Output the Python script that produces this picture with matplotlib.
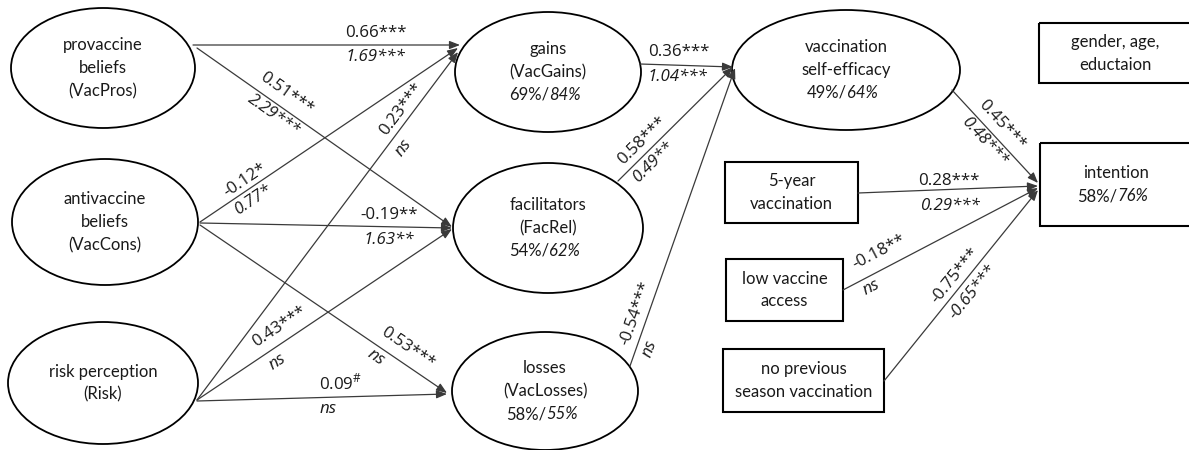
import math
import matplotlib.pyplot as plt
from matplotlib.patches import Ellipse, Rectangle, FancyArrowPatch, ArrowStyle

plt.rcParams['font.family'] = ['Lato', 'DejaVu Sans']
plt.rcParams['mathtext.fontset'] = 'custom'
plt.rcParams['mathtext.rm'] = 'Open Sans'

# ---- model content -------------------------------------------------------
path_from = ["VacPros", "VacPros", "VacCons", "Risk", "VacCons", "VacCons", "Risk", "Risk",
             "VacGains", "FacRel", "VacLosses", "SelfEff", "FiveYear", "LowAccess", "NoPrev"]
path_to = ["VacGains", "FacRel", "VacGains", "VacGains", "FacRel", "VacLosses", "FacRel", "VacLosses",
           "SelfEff", "SelfEff", "SelfEff", "Intention", "Intention", "Intention", "Intention"]
# standardized (upright) / unstandardized (italic) coefficients
coef_std = ["0.66***", "0.51***", "-0.12*", "0.23***", "-0.19**", "0.53***", "0.43***", "0.09#",
            "0.36***", "0.58***", "-0.54***", "0.45***", "0.28***", "-0.18**", "-0.75***"]
coef_uns = ["1.69***", "2.29***", "0.77*", "ns", "1.63**", "ns", "ns", "ns",
            "1.04***", "0.49**", "ns", "0.48***", "0.29***", "ns", "-0.65***"]

# explained variance of endogenous variables
r2_nodes = ["VacGains", "FacRel", "VacLosses", "SelfEff", "Intention"]
r2_std = ["69%", "54%", "58%", "49%", "58%"]
r2_uns = ["84%", "62%", "55%", "64%", "76%"]

node_text = {
    "VacPros": ["provaccine", "beliefs", "(VacPros)"],
    "VacCons": ["antivaccine", "beliefs", "(VacCons)"],
    "Risk": ["risk perception", "(Risk)"],
    "VacGains": ["gains", "(VacGains)"],
    "FacRel": ["facilitators", "(FacRel)"],
    "VacLosses": ["losses", "(VacLosses)"],
    "SelfEff": ["vaccination", "self-efficacy"],
    "Covars": ["gender, age,", "eductaion"],
    "Intention": ["intention"],
    "FiveYear": ["5-year", "vaccination"],
    "LowAccess": ["low vaccine", "access"],
    "NoPrev": ["no previous", "season vaccination"],
}

# ---- layout (pixel space) -----------------------------------------------
nodes = {
    "VacPros": ("ellipse", 103, 68, 184, 120),
    "VacCons": ("ellipse", 105, 222, 186, 126),
    "Risk": ("ellipse", 103, 383, 190, 122),
    "VacGains": ("ellipse", 548, 72, 186, 120),
    "FacRel": ("ellipse", 548, 228, 190, 130),
    "VacLosses": ("ellipse", 545, 391, 186, 118),
    "SelfEff": ("ellipse", 846, 70, 228, 120),
    "Covars": ("box", 1039, 23, 152, 60),
    "Intention": ("box", 1040, 143, 152, 83),
    "FiveYear": ("box", 725, 162, 133, 61),
    "LowAccess": ("box", 726, 259, 117, 62),
    "NoPrev": ("box", 723, 349, 161, 63),
}

edge_ends = [((193, 45), (460, 45)), ((197, 48), (452, 227)), ((200, 222), (458, 48)),
             ((197, 400), (458, 52)), ((200, 223), (452, 228)), ((200, 225), (447, 393)),
             ((197, 400), (452, 229)), ((197, 401), (447, 394)), ((640, 64), (733, 67)),
             ((618, 181), (733, 67)), ((630, 366), (735, 68)), ((952, 90), (1038, 183)),
             ((858, 193), (1038, 186)), ((843, 290), (1038, 188)), ((884, 381), (1038, 190))]

# (t, offset) along/normal to each path for the two labels
label_pos = [((0.685, 12), (0.685, -12)), ((0.32, 14), (0.326, -11)), ((0.195, 10), (0.18, -12)),
             ((0.818, 11), (0.75, -14)), ((0.75, 12), (0.75, -13)), ((0.807, 15), (0.737, -11)),
             ((0.354, 15), (0.286, -13)), ((0.576, 14), (0.524, -12)), ((0.41, 13), (0.41, -12)),
             ((0.283, 12), (0.236, -11)), ((0.165, 12), (0.072, -13)), ((0.47, 13), (0.47, -11)),
             ((0.505, 8), (0.505, -17)), ((0.225, 17), (0.117, -11)), ((0.515, 11), (0.51, -13))]

FS = 12
FS_COEF = 12.2
TXT = '#1a1a1a'

fig = plt.figure(figsize=(11.89, 4.5), dpi=100)
ax = fig.add_axes([0, 0, 1, 1])
ax.set_xlim(0, 1189)
ax.set_ylim(450, 0)
ax.axis('off')

line_h = 23
for name, (kind, a, b, w, h) in nodes.items():
    if kind == "ellipse":
        ax.add_patch(Ellipse((a, b), w, h, fill=False, ec='black', lw=1.3))
        cx, cy = a, b
    else:
        ax.add_patch(Rectangle((a, b), w, h, fill=False, ec='black', lw=1.5))
        cx, cy = a + w / 2, b + h / 2
    lines = node_text[name]
    n = len(lines) + (1 if name in r2_nodes else 0)
    y0 = cy - (n - 1) * line_h / 2
    for i, s in enumerate(lines):
        ax.text(cx, y0 + i * line_h, s, ha='center', va='center', fontsize=FS, color=TXT)
    if name in r2_nodes:
        k = r2_nodes.index(name)
        yy = y0 + len(lines) * line_h
        ax.text(cx + 1, yy, r2_std[k] + "/", ha='right', va='center', fontsize=FS, color=TXT)
        ax.text(cx + 1, yy, r2_uns[k], ha='left', va='center', fontsize=FS, color=TXT,
                style='italic')

head = ArrowStyle('-|>', head_length=0.9, head_width=0.35)


def fmt(s):
    if s.endswith('#'):
        return s[:-1] + r'$^{\#}$'
    return s


for i in range(len(path_from)):
    (x0, y0), (x1, y1) = edge_ends[i]
    ax.add_patch(FancyArrowPatch((x0, y0), (x1, y1), arrowstyle=head, mutation_scale=7,
                                 color='#3a3a3a', lw=0.9, shrinkA=0, shrinkB=0))
    dx, dy = x1 - x0, y1 - y0
    L = math.hypot(dx, dy)
    ux, uy = dx / L, dy / L
    nx, ny = uy, -ux
    rot = math.degrees(math.atan2(-dy, dx))
    if abs(rot) < 5:
        rot = 0
    for (t, d), s, st in zip(label_pos[i], (coef_std[i], coef_uns[i]), ('normal', 'italic')):
        px = x0 + t * dx + d * nx
        py = y0 + t * dy + d * ny
        ax.text(px, py, fmt(s), ha='center', va='center', rotation=rot, rotation_mode='anchor',
                fontsize=FS_COEF, color=TXT, style=st, family=['Open Sans', 'DejaVu Sans'])

fig.savefig('out.png', dpi=100)
